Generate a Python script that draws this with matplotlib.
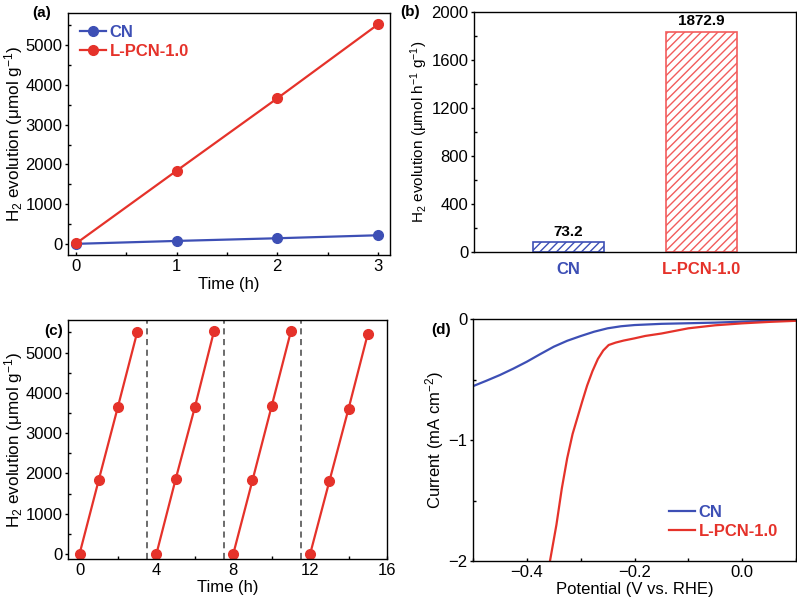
import matplotlib
matplotlib.use("Agg")
import matplotlib.pyplot as plt
from matplotlib.ticker import MultipleLocator

plt.rcParams['font.family'] = ['Liberation Sans', 'DejaVu Sans']
plt.rcParams['mathtext.fontset'] = 'custom'
plt.rcParams['mathtext.rm'] = 'Liberation Sans'
plt.rcParams['mathtext.it'] = 'Liberation Sans:italic'
plt.rcParams['mathtext.bf'] = 'Liberation Sans:bold'
plt.rcParams['axes.linewidth'] = 1.0
plt.rcParams['hatch.linewidth'] = 1.0

BLUE = '#3D4FB5'
RED = '#E5322A'
RED_BAR = '#F25C5C'

# (a) H2 evolution vs time
time_a = [0, 1, 2, 3]
cn_a = [10, 83, 150, 225]
lpcn_a = [20, 1845, 3660, 5513]

# (b) rates
bar_cats = ['CN', 'L-PCN-1.0']
bar_vals = [80, 1836]
bar_labels = ['73.2', '1872.9']

# (c) cycling
cycle_t = [[0, 1, 2, 3], [4, 5, 6, 7], [8, 9, 10, 11], [12, 13, 14, 15]]
cycle_h2 = [[0, 1838, 3659, 5505],
            [0, 1854, 3642, 5538],
            [0, 1829, 3675, 5530],
            [0, 1805, 3609, 5464]]
cycle_breaks = [3.5, 7.5, 11.5]

# (d) LSV
pot_cn = [-0.5, -0.475, -0.45, -0.425, -0.4, -0.375, -0.35, -0.325, -0.3, -0.275,
          -0.25, -0.225, -0.2, -0.15, -0.1, -0.05, 0.0, 0.05, 0.1]
cur_cn = [-0.555, -0.51, -0.463, -0.41, -0.353, -0.29, -0.229, -0.18, -0.141, -0.105,
          -0.077, -0.06, -0.05, -0.04, -0.035, -0.03, -0.022, -0.015, -0.008]
pot_lp = [-0.357, -0.345, -0.335, -0.325, -0.315, -0.305, -0.297, -0.288, -0.278, -0.268,
          -0.258, -0.248, -0.235, -0.22, -0.2, -0.18, -0.15, -0.1, -0.05, 0.0, 0.05, 0.1]
cur_lp = [-2.0, -1.7, -1.4, -1.15, -0.95, -0.8, -0.68, -0.55, -0.43, -0.33,
          -0.26, -0.215, -0.195, -0.178, -0.16, -0.14, -0.12, -0.077, -0.052, -0.036, -0.024, -0.015]

W, H = 797, 604
fig = plt.figure(figsize=(W / 100, H / 100), dpi=100)

def box(l, t, r, b):
    return [l / W, 1 - b / H, (r - l) / W, (b - t) / H]

axa = fig.add_axes(box(68, 13, 390, 255))
axb = fig.add_axes(box(474, 12, 796, 252))
axc = fig.add_axes(box(68, 320, 387, 559))
axd = fig.add_axes(box(473, 319, 796, 561))

FS = 12

def style(ax):
    ax.tick_params(axis='both', which='major', labelsize=FS, length=2.5, width=1, pad=1.5)
    ax.tick_params(axis='x', which='both', direction='in', pad=3)
    ax.tick_params(axis='y', which='major', direction='out')
    ax.tick_params(axis='y', which='minor', direction='in')
    ax.tick_params(which='minor', length=2.5, width=1)

ms = 7
lw = 1.6

# (a)
axa.plot(time_a, cn_a, '-o', color=BLUE, lw=lw, ms=ms, label='CN')
axa.plot(time_a, lpcn_a, '-o', color=RED, lw=lw, ms=ms, label='L-PCN-1.0')
axa.set_xlim(-0.08, 3.12)
axa.set_ylim(-270, 5800)
axa.xaxis.set_major_locator(MultipleLocator(1))
axa.xaxis.set_minor_locator(MultipleLocator(0.5))
axa.yaxis.set_major_locator(MultipleLocator(1000))
axa.yaxis.set_minor_locator(MultipleLocator(500))
style(axa)
axa.set_xlabel('Time (h)', fontsize=FS, labelpad=2)
axa.set_ylabel('H$_2$ evolution (μmol g$^{-1}$)', fontsize=12.3, labelpad=0.5)
leg = axa.legend(loc='upper left', frameon=False, handlelength=1.6,
                 handletextpad=0.2, borderaxespad=0.3, labelspacing=0.25,
                 prop={'weight': 'bold', 'size': 12})
for t, c in zip(leg.get_texts(), [BLUE, RED]):
    t.set_color(c)
axa.text(-0.11, 1.0, '(a)', transform=axa.transAxes, fontsize=11, fontweight='bold',
         ha='left', va='center')

# (b)
xpos = [0, 1]
bars = axb.bar(xpos, bar_vals, width=0.54, color='white',
               edgecolor=[BLUE, RED_BAR], hatch='////', linewidth=1.2)
for b, c in zip(bars, [BLUE, RED_BAR]):
    b._hatch_color = matplotlib.colors.to_rgba(c)
for x, v, lab in zip(xpos, bar_vals, bar_labels):
    axb.text(x, v + 30, lab, ha='center', va='bottom', fontsize=11, fontweight='bold')
axb.set_xlim(-0.71, 1.71)
axb.set_ylim(0, 2000)
axb.set_xticks(xpos)
axb.set_xticklabels(bar_cats, fontweight='bold')
axb.yaxis.set_major_locator(MultipleLocator(400))
axb.yaxis.set_minor_locator(MultipleLocator(200))
style(axb)
axb.tick_params(axis='x', which='both', length=0, pad=7, labelsize=12)
for t, c in zip(axb.get_xticklabels(), [BLUE, RED]):
    t.set_color(c)
    t.set_fontweight('bold')
axb.set_ylabel('H$_2$ evolution (μmol h$^{-1}$ g$^{-1}$)', fontsize=11, labelpad=1)
axb.text(-0.23, 1.0, '(b)', transform=axb.transAxes, fontsize=11, fontweight='bold',
         ha='left', va='center')

# (c)
for t, h in zip(cycle_t, cycle_h2):
    axc.plot(t, h, '-o', color=RED, lw=lw, ms=ms)
for xb in cycle_breaks:
    axc.axvline(xb, color='#444444', lw=1.1, ls=(0, (4, 3)))
axc.set_xlim(-0.6, 16)
axc.set_ylim(-125, 5810)
axc.xaxis.set_major_locator(MultipleLocator(4))
axc.xaxis.set_minor_locator(MultipleLocator(2))
axc.yaxis.set_major_locator(MultipleLocator(1000))
axc.yaxis.set_minor_locator(MultipleLocator(500))
style(axc)
axc.set_xlabel('Time (h)', fontsize=FS, labelpad=1)
axc.set_ylabel('H$_2$ evolution (μmol g$^{-1}$)', fontsize=12.3, labelpad=0.5)
axc.text(-0.075, 0.955, '(c)', transform=axc.transAxes, fontsize=11, fontweight='bold',
         ha='left', va='center')

# (d)
axd.plot(pot_cn, cur_cn, color=BLUE, lw=1.6, label='CN')
axd.plot(pot_lp, cur_lp, color=RED, lw=1.6, label='L-PCN-1.0')
axd.set_xlim(-0.5, 0.1)
axd.set_ylim(-2, 0)
axd.xaxis.set_minor_locator(MultipleLocator(0.1))
axd.yaxis.set_minor_locator(MultipleLocator(0.5))
axd.set_xticks([-0.4, -0.2, 0.0])
axd.set_xticklabels(['−0.4', '−0.2', '0.0'])
axd.set_yticks([-2, -1, 0])
axd.set_yticklabels(['−2', '−1', '0'])
style(axd)
axd.set_xlabel('Potential (V vs. RHE)', fontsize=FS, labelpad=1)
axd.set_ylabel('Current (mA cm$^{-2}$)', fontsize=FS, labelpad=2)
leg2 = axd.legend(loc='lower right', frameon=False, handlelength=1.6, handletextpad=0.2,
                  borderaxespad=0.5, labelspacing=0.25, prop={'weight': 'bold', 'size': 12},
                  bbox_to_anchor=(0.99, 0.03))
for t, c in zip(leg2.get_texts(), [BLUE, RED]):
    t.set_color(c)
axd.text(-0.13, 0.955, '(d)', transform=axd.transAxes, fontsize=11, fontweight='bold',
         ha='left', va='center')

fig.savefig('out.png', dpi=100)
